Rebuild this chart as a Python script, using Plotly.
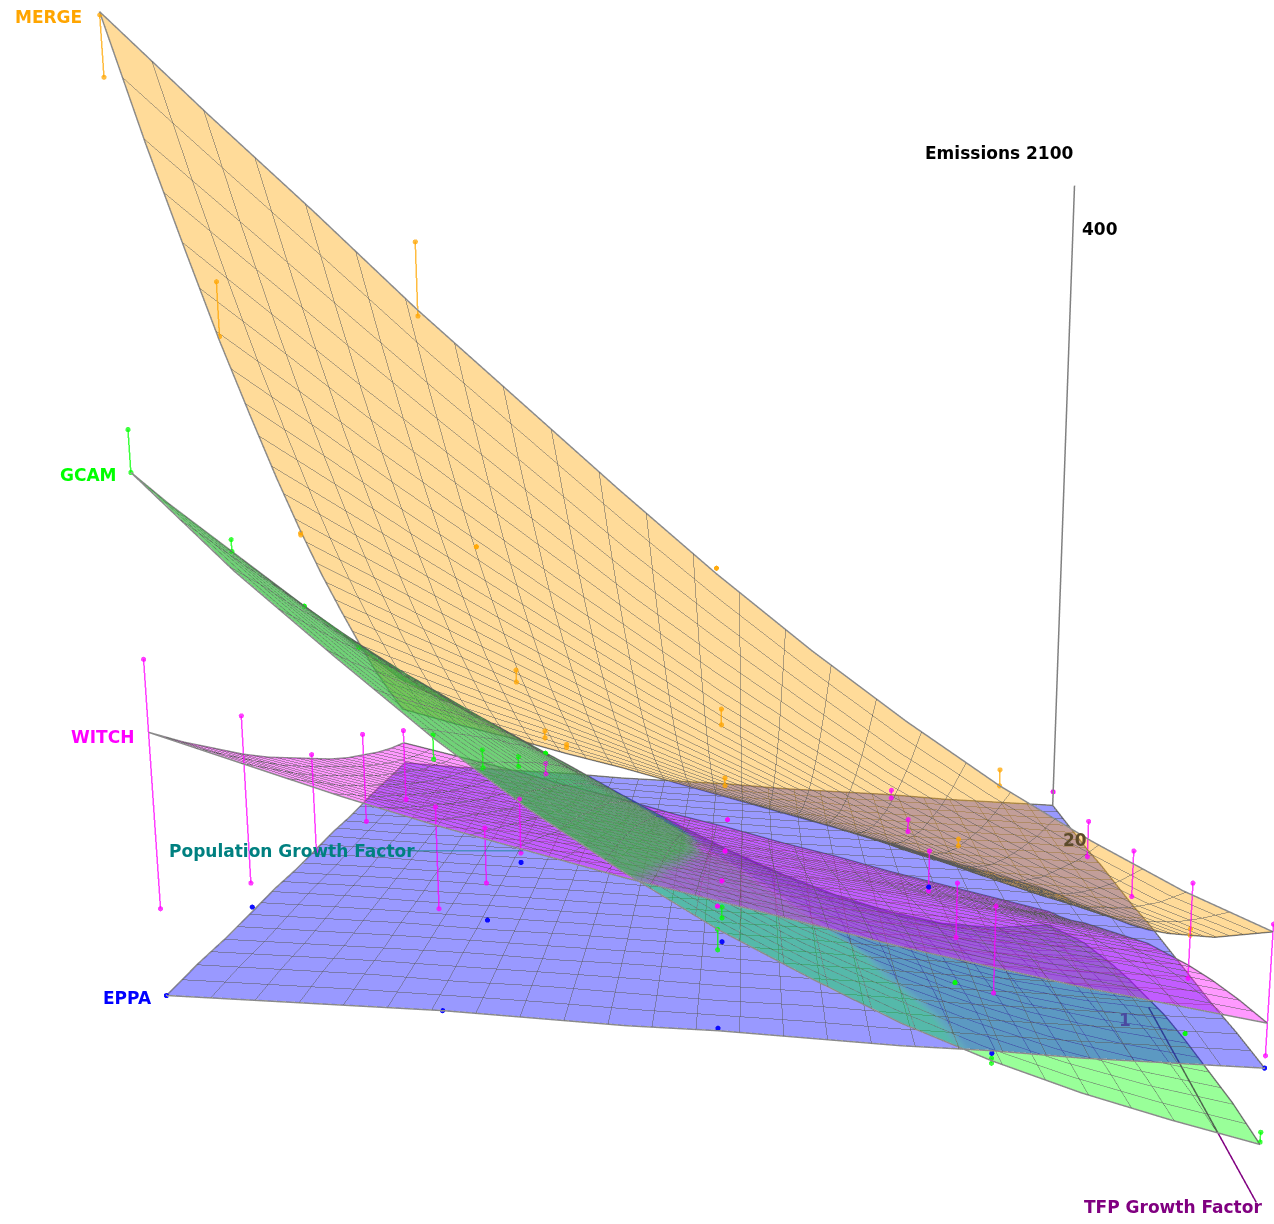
import numpy as np
import plotly.graph_objects as go

# Axes of the response surfaces: normalised growth factors (13 levels each)
POP_LEVELS = [i / 12 for i in range(13)]
TFP_LEVELS = [i / 12 for i in range(13)]

# Emissions 2100, one row per TFP level, one column per population level
MERGE_Z = [
 [-14,-3,7,18,28,38,48,58,68,77,87,96,106],
 [-5,5,16,27,38,48,59,70,81,92,103,114,125],
 [3,14,25,36,47,59,71,83,96,108,120,133,145],
 [12,22,34,45,58,71,84,97,111,125,139,153,167],
 [21,31,43,56,69,83,97,112,127,143,159,174,190],
 [30,41,53,66,81,96,112,128,145,162,179,197,214],
 [39,51,64,78,93,110,127,145,164,183,202,221,240],
 [49,61,75,90,107,125,144,163,184,205,226,247,268],
 [60,73,87,103,121,141,161,183,205,228,251,275,298],
 [72,85,100,118,137,158,180,204,228,253,278,304,329],
 [84,98,115,133,154,177,201,226,253,280,307,335,363],
 [98,112,130,150,172,197,223,250,279,308,338,368,398],
 [112,128,147,168,192,218,246,276,307,338,371,403,436],
]
EPPA_Z = [
 [43,45,47,50,52,54,57,59,61,64,66,68,71],
 [44,46,49,51,53,56,58,60,63,65,67,70,72],
 [45,48,50,52,55,57,59,62,64,66,69,71,74],
 [46,49,51,53,56,58,61,63,66,68,70,73,75],
 [48,50,52,55,57,59,62,64,67,69,72,74,76],
 [49,51,54,56,58,61,63,66,68,71,73,75,78],
 [50,52,55,57,60,62,65,67,70,72,74,77,79],
 [52,54,56,58,61,63,66,68,71,73,76,78,80],
 [53,55,57,60,62,65,67,70,72,75,77,80,82],
 [54,56,58,61,63,66,69,71,74,76,79,81,83],
 [55,57,60,62,65,67,70,73,75,78,80,82,84],
 [57,59,61,63,66,69,71,74,77,79,82,84,86],
 [58,60,62,65,67,70,73,75,78,81,83,85,87],
]
WITCH_Z = [
 [-28,-19,-10,-1,9,18,28,37,47,56,66,75,84],
 [-19,-10,-1,8,17,26,35,44,53,62,71,80,89],
 [-9,-1,8,16,25,33,42,51,60,69,78,87,95],
 [2,9,17,25,33,42,50,59,67,76,85,93,102],
 [12,19,27,34,42,50,58,66,75,83,92,101,109],
 [22,29,36,44,51,59,67,75,83,91,100,109,117],
 [32,39,46,53,60,67,75,83,91,99,108,117,126],
 [42,48,55,62,69,76,84,91,100,108,117,126,135],
 [50,57,63,70,77,85,92,100,108,117,126,135,144],
 [58,65,71,78,85,93,100,109,117,126,135,144,154],
 [65,72,79,86,93,101,109,117,126,135,144,154,165],
 [71,78,85,92,100,108,116,125,134,144,154,165,176],
 [76,83,90,98,106,115,124,133,143,153,164,176,188],
]
GCAM_Z = [
 [-37,-39,-36,-28,-17,-3,13,31,50,70,89,108,125],
 [-28,-29,-25,-18,-7,7,24,42,61,81,101,120,138],
 [-19,-19,-15,-7,4,18,34,52,71,91,112,132,151],
 [-10,-10,-6,2,13,27,44,62,81,102,123,144,164],
 [-3,-2,3,11,23,37,53,71,91,112,133,155,177],
 [4,6,11,20,31,46,62,80,100,122,144,167,190],
 [10,13,19,28,39,54,71,89,110,131,154,178,203],
 [15,19,25,35,47,62,79,98,118,141,165,190,216],
 [20,24,31,41,54,69,86,106,127,150,175,201,229],
 [23,29,37,47,61,76,94,114,135,159,185,213,242],
 [25,32,41,53,66,82,101,121,144,168,195,224,255],
 [27,35,45,57,72,88,107,128,152,177,205,236,268],
 [27,37,48,61,76,94,113,135,159,186,216,247,282],
]

# Model runs: (population, TFP, run value, value at the other end of its drop line)
MERGE_RUNS = [(1,1,415,435),(1,.75,353,331),(1,.5,239,238),(.75,1,361,336),(.75,.75,244,244),(.75,.5,165,171),(.75,.25,112,116),
              (.75,0,81,83),(.5,1,248,248),(.5,.75,167,174),(.5,.5,112,116),(.25,1,168,174),(.25,.75,113,116),(0,.75,75,72)]
GCAM_RUNS = [(1,1,297,282),(1,.75,247,242),(1,.5,203,203),(1,.25,164,164),(.75,1,178,187),(.75,.75,148,156),(.75,.5,122,127),
             (.75,.25,103,103),(.5,1,105,113),(.25,1,60,62),(0,1,32,28),(.25,.75,50,50),(0,.75,26,26),(.5,.75,80,85)]
WITCH_RUNS = [(1,1,215,121),(1,.75,171,96),(1,.5,128,78),(1,.25,114,63),(1,0,92,47),(.75,1,160,121),(.75,.75,121,96),(.75,.5,105,77),
              (.75,.25,97,91),(.5,.25,64,64),(.5,.5,78,78),(.5,.75,97,97),(.5,1,122,122),(.25,1,122,88),(.25,.75,96,71),(.25,.5,78,57),
              (.25,.25,64,57),(.25,0,53,48),(0,1,115,63),(0,.75,96,52),(0,.5,78,54),(0,.25,63,42),(0,0,52,52)]
EPPA_RUNS = [(1,1,87,87),(1,.75,85,85),(.75,1,81,81),(.75,.75,79,79),(.75,.5,72,72),(.5,1,74,74),(.5,.75,69,69),(.25,1,64,64),(0,1,58,58),(.25,.5,59,59)]

x = np.array(POP_LEVELS)
y = np.array(TFP_LEVELS)
Zs = {'MERGE': np.array(MERGE_Z, float), 'EPPA': np.array(EPPA_Z, float), 'WITCH': np.array(WITCH_Z, float), 'GCAM': np.array(GCAM_Z, float)}
RUNS = {'MERGE': MERGE_RUNS, 'GCAM': GCAM_RUNS, 'WITCH': WITCH_RUNS, 'EPPA': EPPA_RUNS}
COL = {'MERGE': '#ffa500', 'GCAM': '#00ff00', 'WITCH': '#ff00ff', 'EPPA': '#0000ff'}
LIGHT = dict(ambient=1, diffuse=0, specular=0, fresnel=0, roughness=1)
grid = dict(x=dict(show=True, start=0, end=1.001, size=.04, color='#5a5a5a', width=2, highlight=False),
            y=dict(show=True, start=0, end=1.001, size=.04, color='#5a5a5a', width=2, highlight=False),
            z=dict(highlight=False))

fig = go.Figure()
def solid(m):
    c = COL[m]
    fig.add_surface(x=x, y=y, z=Zs[m], colorscale=[[0, c], [1, c]], showscale=False, opacity=.4, lighting=LIGHT, hoverinfo='skip', contours=grid)
def gcam_part(mask, c, a):
    fig.add_surface(x=x, y=y, z=Zs['GCAM'], surfacecolor=mask, cmin=-400, cmax=400, colorscale=[[0, c], [1, c]], showscale=False,
                    opacity=1, opacityscale=[[0, 0], [.4995, 0], [.5005, a], [1, a]], lighting=LIGHT, hoverinfo='skip')

# painter's order: GCAM is split where it crosses EPPA and WITCH
dE = Zs['GCAM'] - Zs['EPPA']
dW = Zs['GCAM'] - Zs['WITCH']
gcam_part(-dE, '#00ff00', .4)
fig.add_surface(x=x, y=y, z=Zs['GCAM'], colorscale=[[0, '#00ff00'], [1, '#00ff00']], showscale=False, hidesurface=True, lighting=LIGHT, hoverinfo='skip', contours=grid)
solid('EPPA')
gcam_part(np.minimum(dE, -dW), '#00e040', .45)
solid('WITCH')
solid('MERGE')
gcam_part(dW, '#32be3c', .7)

n = len(x)
for m, Z in Zs.items():
    bx = list(x) + [1] * (n - 1) + list(x[::-1][1:]) + [0] * (n - 1)
    by = [0] * n + list(y[1:]) + [1] * (n - 1) + list(y[::-1][1:])
    bz = list(Z[0, :]) + list(Z[1:, -1]) + list(Z[-1, ::-1][1:]) + list(Z[::-1, 0][1:])
    fig.add_scatter3d(x=bx, y=by, z=bz, mode='lines', line=dict(color='#8a8a8a', width=3), hoverinfo='skip', showlegend=False)
for m, runs in RUNS.items():
    xs, ys, zs = [], [], []
    for p, t, a, b in runs:
        xs += [p, p, None]; ys += [t, t, None]; zs += [a, b, None]
    fig.add_scatter3d(x=xs, y=ys, z=zs, mode='lines+markers', line=dict(color=COL[m], width=3), marker=dict(size=3, color=COL[m]),
                      opacity=.75, hoverinfo='skip', showlegend=False)

# Axes
fig.add_scatter3d(x=[0, 0], y=[0, 0], z=[43, 425], mode='lines', line=dict(color='#808080', width=3), showlegend=False, hoverinfo='skip')
fig.add_scatter3d(x=[0, 0], y=[.6, 1], z=[12, 3], mode='lines', line=dict(color='#800080', width=3), showlegend=False, hoverinfo='skip')
fig.add_scatter3d(x=[.82, 1], y=[0, 0], z=[13, 13], mode='lines', line=dict(color='#008080', width=3), opacity=.5, showlegend=False, hoverinfo='skip')

W, H = 1492, 1224
labels = [('MERGE', 48.5, 17, '#ffa500'), ('GCAM', 88.5, 475, '#00ff00'), ('WITCH', 102.5, 737, '#ff00ff'), ('EPPA', 127.5, 998, '#0000ff'),
          ('Emissions 2100', 999.5, 153, '#000000'), ('400', 1100, 229, '#000000'), ('20', 1075, 840, '#5c4a2a'), ('1', 1125, 1020, '#4a4aa0'),
          ('Population Growth Factor', 292, 851, '#008080'), ('TFP Growth Factor', 1173, 1207, '#800080')]
anns = [dict(text=s, x=px / W, y=1 - py / H, xref='paper', yref='paper', showarrow=False, xanchor='center', yanchor='middle',
             font=dict(family='DejaVu Sans', size=17, weight='bold', color=c)) for s, px, py, c in labels]
fig.update_layout(width=W, height=H, margin=dict(l=0, r=0, t=0, b=0), paper_bgcolor='white', showlegend=False, annotations=anns,
    scene=dict(domain=dict(x=[0, 1], y=[0, 1]), aspectmode='manual', aspectratio=dict(x=.8706, y=.819, z=1.2682),
               xaxis=dict(visible=False, range=[0, 1]), yaxis=dict(visible=False, range=[0, 1]), zaxis=dict(visible=False, range=[-150, 450]),
               camera=dict(eye=dict(x=-.0223, y=1.51076, z=.35648), center=dict(x=-.0223, y=.03101, z=.11093),
                           up=dict(x=0, y=-.1637, z=.9865), projection=dict(type='perspective'))))
fig.write_html('out.html', config=dict(displayModeBar=False),
               post_script="document.body.style.margin='0';document.documentElement.style.overflow='hidden';document.body.style.overflow='hidden';")
